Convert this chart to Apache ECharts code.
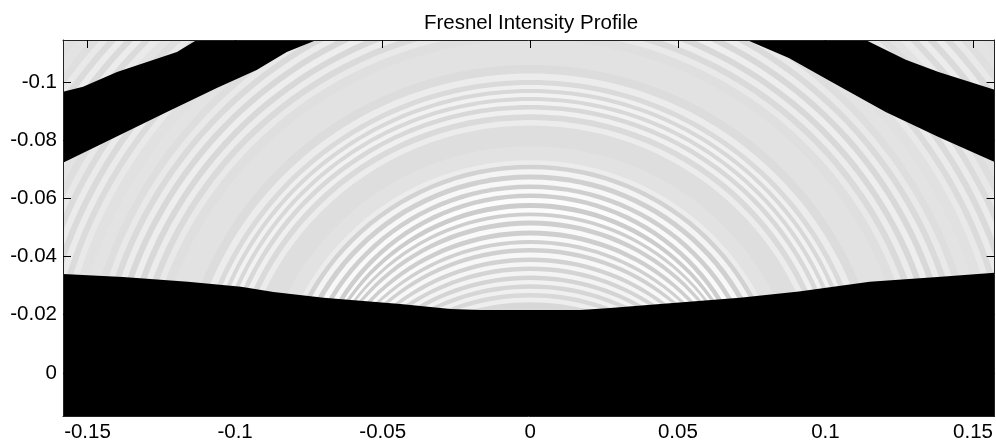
<!DOCTYPE html>
<html><head><meta charset="utf-8">
<script src="https://cdn.jsdelivr.net/npm/echarts@6/dist/echarts.min.js"></script>
<style>html,body{margin:0;padding:0;background:#fff}#c{width:996px;height:445px}</style>
</head><body><div id="c"></div>
<script>
/* Approximation: the reference is a ~4px image raster. Fringes are represented as
   rings read along the centre column (values beyond the plot top are estimates from the
   side stripes), not as individually read cells. Black areas are polygons read by eye. */
const titleText = 'Fresnel Intensity Profile';
const xTickValues = [-0.15,-0.1,-0.05,0,0.05,0.1,0.15];
const yTickValues = [-0.1,-0.08,-0.06,-0.04,-0.02,0];
const xRange = [-0.1583,0.1573];
const yRange = [-0.1144,0.0148];
const ringApexY = [-.0234,-.0251,-.0268,-.0282,-.0296,-.0313,-.0326,-.0344,-.0357,-.0375,-.0388,-.0405,-.0423,-.0436,-.0450,-.0464,-.0481,-.0498,-.0515,-.0533,-.0543,-.0560,-.0574,-.0594,-.0608,-.0625,-.0639,-.0656,-.0673,-.0691,-.0708,-.0722,-.0739,-.0818,-.0842,-.0859,-.0880,-.0897,-.0914,-.0928,-.0941,-.0955,-.0969,-.0983,-.0996,-.1017,-.1041,-.1075,-.1124,-.1165,-.1185,-.1206,-.1227,-.1247,-.1268,-.1289,-.1309,-.1330,-.1350,-.1371,-.1398,-.1447,-.1467,-.1488,-.1508,-.1529,-.1550,-.1570,-.1591,-.1612,-.1639,-.1664,-.1685,-.1706,-.1727,-.1748,-.1769,-.1790,-.1811,-.1840,-.1875,-.1896,-.1917,-.1938,-.1959,-.1980,-.2001];
const ringCentreY = [.0505,.0488,.0471,.0457,.0443,.0426,.0412,.0395,.0381,.0364,.0350,.0333,.0316,.0302,.0289,.0275,.0258,.0241,.0223,.0206,.0196,.0179,.0165,.0144,.0144,.0144,.0144,.0144,.0144,.0144,.0144,.0144,.0144,.0144,.0144,.0144,.0144,.0144,.0144,.0144,.0144,.0144,.0144,.0144,.0144,.0144,.0144,.0144,.0144,.0144,.0144,.0144,.0144,.0144,.0144,.0144,.0144,.0144,.0144,.0144,.0144,.0144,.0144,.0144,.0144,.0144,.0144,.0144,.0144,.0144,.0144,.0144,.0144,.0144,.0144,.0144,.0144,.0144,.0144,.0144,.0144,.0144,.0144,.0144,.0144,.0144,.0144];
const ringGray = [216,238,216,240,214,242,212,244,212,246,210,248,208,248,208,250,206,250,206,250,206,252,204,252,206,250,207,248,208,244,210,236,226,222,222,236,218,240,216,242,216,242,216,240,218,236,220,226,226,223,233,218,236,216,238,216,236,218,233,222,227,225,233,219,235,218,235,219,232,222,227,234,219,236,218,236,219,233,223,227,225,234,219,234,219,232,222];
const lowerEdge = [[-.1583,-.034],[-.138,-.033],[-.116,-.0313],[-.098,-.0296],[-.087,-.0278],[-.07,-.0258],[-.044,-.0237],[-.027,-.022],[-.017,-.0216],[.017,-.0216],[.027,-.0223],[.044,-.0237],[.071,-.0258],[.091,-.028],[.115,-.0313],[.138,-.033],[.1573,-.0344],[.1573,.0148],[-.1583,.0148]];
const leftBand = [[-.1583,-.0966],[-.1515,-.0983],[-.14,-.1034],[-.1197,-.1103],[-.113,-.1144],[-.0724,-.1144],[-.0825,-.1103],[-.0927,-.1041],[-.1062,-.0979],[-.1231,-.0897],[-.1458,-.0784],[-.1583,-.0722]];
const rightBand = [[.0734,-.1144],[.0876,-.1082],[.1021,-.1],[.1204,-.0897],[.1383,-.0811],[.1573,-.0725],[.1573,-.0973],[.1383,-.1034],[.1272,-.1076],[.1136,-.1144]];

const ringData = ringApexY.map((y,i)=>[y,ringGray[i],ringCentreY[i]]).reverse();
const chart = echarts.init(document.getElementById('c'),null,{renderer:'canvas'});
const font = {fontFamily:'"Liberation Sans",Arial,sans-serif',color:'#000'};
function axis(extra,range,ticks,showLabel){
  return Object.assign({type:'value',min:range[0],max:range[1],z:5,splitLine:{show:false},
    axisLine:{show:true,onZero:false,lineStyle:{color:'#222',width:1}},
    axisTick:{show:true,inside:true,length:8,customValues:ticks,lineStyle:{color:'#000',width:1}},
    axisLabel:{show:showLabel,customValues:ticks,fontSize:20.5,margin:6,...font,hideOverlap:false,showMinLabel:true,showMaxLabel:true,formatter:v=>String(v)}},extra);
}
const polygons=[lowerEdge,leftBand,rightBand];
chart.setOption({
  animation:false,backgroundColor:'#fff',
  title:{text:titleText,left:526,top:8,textAlign:'center',textStyle:{fontSize:20.5,fontWeight:'normal',...font}},
  grid:{left:63,right:0,top:40,bottom:29,containLabel:false},
  xAxis:[axis({position:'bottom'},xRange,xTickValues,true),axis({position:'top'},xRange,xTickValues,false)],
  yAxis:[axis({position:'left',inverse:true},yRange,yTickValues,true),axis({position:'right',inverse:true},yRange,yTickValues,false)],
  series:[
    {type:'custom',coordinateSystem:'cartesian2d',clip:true,z:2,silent:true,data:ringData,encode:{x:[],y:0},
     renderItem(params,api){
       const i=params.dataIndex;
       const apex=api.value(0), outer=i>0?ringData[i-1][0]:apex;
       const edge=(apex+outer)/2;
       const c=api.coord([0,api.value(2)]), p=api.coord([0,edge]);
       const s=api.size([1,1]);
       const ry=Math.abs(c[1]-p[1]);
       const g=api.value(1);
       return {type:'ellipse',shape:{cx:c[0],cy:c[1],rx:ry*s[0]/s[1],ry:ry},style:{fill:`rgb(${g},${g},${g})`}};
     }},
    {type:'custom',coordinateSystem:'cartesian2d',clip:true,z:3,silent:true,data:polygons.map((p,i)=>[i]),encode:{x:[],y:[]},
     renderItem(params,api){
       const pts=polygons[params.dataIndex].map(p=>api.coord(p));
       return {type:'polygon',shape:{points:pts},style:{fill:'#000'}};
     }}
  ]
});
</script></body></html>
